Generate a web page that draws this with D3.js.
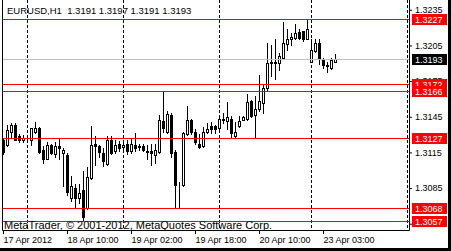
<!DOCTYPE html>
<html>
<head>
<meta charset="utf-8">
<script src="https://cdn.jsdelivr.net/npm/d3@7"></script>
<style>
body { margin: 0; background: #fff; }
svg text { font-family: "Liberation Sans", Arial, sans-serif; }
</style>
</head>
<body>
<svg id="chart" width="451" height="251"></svg>
<script>
// EURUSD H1 bars, 17 Apr 18:00 .. 23 Apr 06:00
var opens = [1.3125,1.3121,1.3132,1.3138,1.3128,1.3125,1.3126,1.3125,1.3132,1.3135,
  1.3117,1.3109,1.3121,1.3113,1.3120,1.3114,1.3112,1.3076,1.3085,1.3076,
  1.3083,1.3068,1.3093,1.3122,1.3120,1.3114,1.3105,1.3125,1.3116,1.3122,
  1.3119,1.3122,1.3116,1.3121,1.3120,1.3120,1.3116,1.3116,1.3112,1.3115,
  1.3141,1.3132,1.3146,1.3115,1.3088,1.3087,1.3130,1.3142,1.3132,1.3122,
  1.3120,1.3132,1.3137,1.3137,1.3135,1.3142,1.3141,1.3143,1.3128,1.3137,
  1.3142,1.3143,1.3158,1.3146,1.3151,1.3156,1.3169,1.3190,1.3191,1.3190,
  1.3194,1.3206,1.3210,1.3211,1.3216,1.3217,1.3210,1.3191,1.3200,1.3207,
  1.3192,1.3188,1.3186,1.3191];
var highs = [1.3127,1.3138,1.3139,1.3139,1.3130,1.3129,1.3128,1.3135,1.3140,1.3136,
  1.3120,1.3123,1.3122,1.3123,1.3127,1.3118,1.3114,1.3095,1.3088,1.3088,
  1.3099,1.3102,1.3137,1.3128,1.3121,1.3118,1.3128,1.3128,1.3125,1.3124,
  1.3123,1.3125,1.3127,1.3131,1.3122,1.3122,1.3121,1.3122,1.3122,1.3146,
  1.3166,1.3149,1.3148,1.3117,1.3090,1.3132,1.3154,1.3143,1.3134,1.3130,
  1.3136,1.3139,1.3140,1.3138,1.3145,1.3148,1.3157,1.3145,1.3140,1.3145,
  1.3145,1.3164,1.3159,1.3162,1.3180,1.3172,1.3207,1.3205,1.3210,1.3198,
  1.3224,1.3218,1.3215,1.3223,1.3218,1.3217,1.3227,1.3210,1.3210,1.3210,
  1.3194,1.3191,1.3194,1.3197];
var lows = [1.3113,1.3120,1.3127,1.3125,1.3123,1.3123,1.3123,1.3121,1.3131,1.3114,
  1.3106,1.3109,1.3113,1.3111,1.3109,1.3086,1.3079,1.3074,1.3068,1.3072,
  1.3057,1.3067,1.3092,1.3104,1.3111,1.3103,1.3104,1.3113,1.3114,1.3116,
  1.3117,1.3113,1.3114,1.3116,1.3117,1.3116,1.3109,1.3104,1.3106,1.3114,
  1.3132,1.3131,1.3111,1.3068,1.3069,1.3086,1.3129,1.3130,1.3122,1.3118,
  1.3119,1.3131,1.3131,1.3131,1.3134,1.3139,1.3134,1.3127,1.3127,1.3136,
  1.3142,1.3142,1.3144,1.3127,1.3149,1.3148,1.3166,1.3179,1.3176,1.3184,
  1.3193,1.3201,1.3205,1.3210,1.3210,1.3208,1.3210,1.3191,1.3199,1.3189,
  1.3186,1.3182,1.3185,1.3191];
var closes = [1.3115,1.3133,1.3138,1.3125,1.3125,1.3127,1.3126,1.3135,1.3135,1.3115,
  1.3109,1.3121,1.3114,1.3120,1.3118,1.3117,1.3081,1.3086,1.3076,1.3080,
  1.3060,1.3094,1.3121,1.3120,1.3115,1.3107,1.3125,1.3114,1.3121,1.3118,
  1.3121,1.3116,1.3122,1.3118,1.3119,1.3117,1.3115,1.3114,1.3117,1.3142,
  1.3135,1.3147,1.3114,1.3087,1.3088,1.3131,1.3142,1.3132,1.3123,1.3119,
  1.3132,1.3134,1.3134,1.3134,1.3143,1.3143,1.3144,1.3131,1.3132,1.3141,
  1.3144,1.3157,1.3145,1.3151,1.3158,1.3169,1.3190,1.3191,1.3190,1.3196,
  1.3207,1.3210,1.3212,1.3215,1.3211,1.3210,1.3218,1.3201,1.3207,1.3193,
  1.3188,1.3187,1.3192,1.3193];

var timeTicks = [0, 16, 32, 48, 64, 80];
var timeLabels = ["17 Apr 2012", "18 Apr 10:00", "19 Apr 02:00", "19 Apr 18:00", "20 Apr 10:00", "23 Apr 03:00"];
var separators = [6, 30, 54, 77, 101];   // day starts
var priceTicks = [1.3235, 1.3205, 1.3175, 1.3145, 1.3115, 1.3085, 1.3055];
var levels = [1.3227, 1.3172, 1.3166, 1.3127, 1.3068, 1.3057];
var bid = 1.3193;

var svg = d3.select("#chart");
var fmt = d3.format(".4f");

var x = d3.scaleLinear().domain([0, 101]).range([3, 407]);
var y = d3.scaleLinear().domain([1.3057, 1.3227]).range([221.3, 19.3]);
function px(i) { return Math.round(x(i)); }
function py(p) { return Math.floor(y(p)); }

var bars = d3.range(opens.length).map(function (i) {
  return { i: i, o: opens[i], h: highs[i], l: lows[i], c: closes[i] };
});

// period separators
svg.append("g").selectAll("line").data(separators).enter().append("line")
  .attr("x1", function (d) { return px(d) + 0.5; })
  .attr("x2", function (d) { return px(d) + 0.5; })
  .attr("y1", 0).attr("y2", 230)
  .attr("stroke", "#000").attr("stroke-dasharray", "3,2");

// candles
var cg = svg.append("g");
cg.selectAll(".wick").data(bars).enter().append("line")
  .attr("class", "wick")
  .attr("x1", function (d) { return px(d.i) + 0.5; })
  .attr("x2", function (d) { return px(d.i) + 0.5; })
  .attr("y1", function (d) { return py(d.h); })
  .attr("y2", function (d) { return py(d.l) + 1; })
  .attr("stroke", "#000");

cg.selectAll(".body").data(bars).enter().append("rect")
  .attr("class", "body")
  .each(function (d) {
    var top = py(Math.max(d.o, d.c)), bot = py(Math.min(d.o, d.c));
    var r = d3.select(this);
    if (d.c >= d.o) {
      r.attr("x", px(d.i) - 0.5).attr("width", 2)
       .attr("y", top + 0.5).attr("height", Math.max(bot - top, 0))
       .attr("fill", "#fff").attr("stroke", "#000");
    } else {
      r.attr("x", px(d.i) - 1).attr("width", 3)
       .attr("y", top).attr("height", bot - top + 1)
       .attr("fill", "#000");
    }
  });

// bid line
svg.append("line")
  .attr("x1", 2).attr("x2", 409)
  .attr("y1", py(bid) + 0.5).attr("y2", py(bid) + 0.5)
  .attr("stroke", "#c0c0c0");

// horizontal levels
svg.append("g").selectAll("line").data(levels).enter().append("line")
  .attr("x1", 2).attr("x2", 409)
  .attr("y1", function (d) { return py(d) + 0.5; })
  .attr("y2", function (d) { return py(d) + 0.5; })
  .attr("stroke", "#ff0000");

// frame
svg.append("path")
  .attr("d", "M2.5,0V230.5H409.5V0")
  .attr("fill", "none").attr("stroke", "#000");

// price axis
var yAxis = svg.append("g")
  .attr("transform", "translate(409,0)")
  .call(d3.axisRight(y).tickValues(priceTicks).tickSize(3).tickFormat(fmt));
yAxis.select(".domain").remove();
yAxis.selectAll("text").attr("font-size", "9px")
  .attr("font-family", "'Liberation Sans', Arial, sans-serif").attr("fill", "#000");

// time axis
var xAxis = svg.append("g")
  .attr("transform", "translate(0,230)")
  .call(d3.axisBottom(x).tickValues(timeTicks).tickSize(4)
    .tickFormat(function (d, i) { return timeLabels[i]; }));
xAxis.select(".domain").remove();
xAxis.selectAll("text").attr("text-anchor", "start").attr("font-size", "9px")
  .attr("font-family", "'Liberation Sans', Arial, sans-serif").attr("fill", "#000");

// level labels on the price scale
var lg = svg.append("g");
levels.forEach(function (p) {
  lg.append("rect").attr("x", 412).attr("y", py(p) - 5).attr("width", 35).attr("height", 11)
    .attr("fill", "#ff0000");
  lg.append("text").attr("x", 415).attr("y", py(p) + 4).attr("font-size", "9px")
    .attr("fill", "#fff").text(fmt(p));
});
lg.append("rect").attr("x", 412).attr("y", py(bid) - 5).attr("width", 35).attr("height", 11)
  .attr("fill", "#000");
lg.append("text").attr("x", 415).attr("y", py(bid) + 4).attr("font-size", "9px")
  .attr("fill", "#fff").text(fmt(bid));

// header and copyright
var last = bars[bars.length - 1];
svg.append("text").attr("x", 7).attr("y", 14).attr("font-size", "9.5px")
  .style("white-space", "pre")
  .text("EURUSD,H1  " + [last.o, last.h, last.l, last.c].map(fmt).join(" "));
svg.append("text").attr("x", 4).attr("y", 229).attr("font-size", "11px")
  .text("MetaTrader, \u00a9 2001-2012, MetaQuotes Software Corp.");

// window border
svg.append("rect").attr("x", 448).attr("y", 0).attr("width", 3).attr("height", 251).attr("fill", "#000");
svg.append("rect").attr("x", 0).attr("y", 248).attr("width", 451).attr("height", 3).attr("fill", "#000");
</script>
</body>
</html>
